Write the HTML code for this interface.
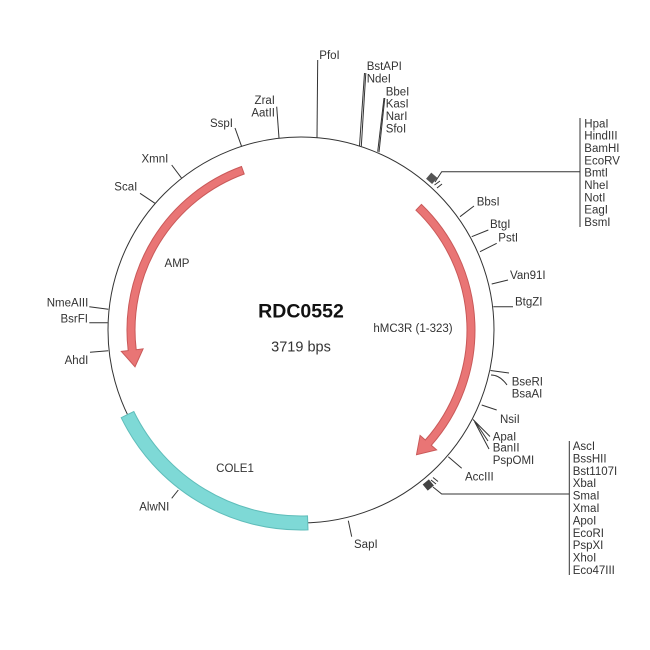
<!DOCTYPE html>
<html><head><meta charset="utf-8"><style>
html,body{margin:0;padding:0;background:#fff;}
svg{display:block;}
text{font-family:"Liberation Sans",Arial,sans-serif;fill:#333;}
.s{font-size:11.5px;}
</style></head><body>
<svg width="650" height="650" viewBox="0 0 650 650" xmlns="http://www.w3.org/2000/svg">
<rect width="650" height="650" fill="#fff"/>
<circle cx="301" cy="330" r="193" fill="none" stroke="#333" stroke-width="1"/>

<!-- COLE1 -->
<path d="M 308.0 529.9 A 200 200 0 0 1 121.2 417.7 L 133.8 411.5 A 186 186 0 0 0 307.5 515.9 Z" fill="#7ed9d6" stroke="#5fbdba" stroke-width="1"/>

<!-- AMP -->
<path d="M 241.5 166.5 A 174 174 0 0 0 128.2 350.6 L 121.3 351.4 L 135.0 366.8 L 143.1 348.8 L 136.2 349.7 A 166 166 0 0 1 244.2 174.0 Z" fill="#e97575" stroke="#c95959" stroke-width="1"/>
<!-- hMC3R -->
<path d="M 421.4 204.4 A 174 174 0 0 1 431.3 445.3 L 436.6 449.9 L 416.5 454.7 L 420.1 435.4 L 425.3 440.0 A 166 166 0 0 0 415.9 210.2 Z" fill="#e97575" stroke="#c95959" stroke-width="1"/>

<!-- ticks -->
<g stroke="#333" stroke-width="1" fill="none">
<line x1="241.7" y1="146.7" x2="235" y2="128"/>
<line x1="279" y1="138" x2="276.7" y2="106.7"/>
<line x1="317" y1="137.7" x2="317.7" y2="60"/>
<line x1="359.5" y1="146" x2="364.5" y2="73"/>
<line x1="361.3" y1="146.3" x2="365.8" y2="73"/>
<line x1="377.7" y1="151.7" x2="384" y2="98"/>
<line x1="379" y1="152.3" x2="384.8" y2="98"/>
<!-- upper cluster -->
<polyline points="435,182 441.7,171.7 580,171.7"/>
<line x1="580" y1="118" x2="580" y2="227"/>
<line x1="434.5" y1="185" x2="440" y2="181"/>
<line x1="437" y1="188" x2="442" y2="184"/>
<line x1="460" y1="216.7" x2="474" y2="206"/>
<line x1="471.7" y1="236.7" x2="488.3" y2="230"/>
<line x1="480" y1="251.7" x2="496.7" y2="243.3"/>
<line x1="491.7" y1="284" x2="508" y2="280"/>
<line x1="493.3" y1="306.7" x2="513" y2="306.7"/>
<line x1="490.5" y1="370.5" x2="509" y2="373"/>
<path d="M 491 375 Q 500 375 507 385"/>
<line x1="481.7" y1="405" x2="496.7" y2="410"/>
<line x1="473" y1="419.5" x2="490" y2="436.5"/>
<line x1="474.5" y1="421.5" x2="489" y2="449"/>
<line x1="476" y1="423" x2="488" y2="441"/>
<line x1="448.3" y1="456.7" x2="461.7" y2="468.3"/>
<!-- lower cluster -->
<polyline points="433,487 441.7,494 569.3,494"/>
<line x1="569.3" y1="441" x2="569.3" y2="575"/>
<line x1="431" y1="480" x2="436" y2="484"/>
<line x1="433" y1="477.5" x2="438" y2="481.5"/>
<line x1="181.7" y1="178.3" x2="171.7" y2="165"/>
<line x1="155" y1="203.3" x2="140" y2="193.3"/>
<line x1="108.3" y1="309.3" x2="89.3" y2="306.7"/>
<line x1="107.7" y1="322.7" x2="89.3" y2="322.7"/>
<line x1="108.3" y1="350.7" x2="90" y2="352.3"/>
<line x1="178.3" y1="490" x2="171.7" y2="498.3"/>
<line x1="348.3" y1="520.7" x2="351.7" y2="536.7"/>
</g>
<!-- cluster markers -->
<rect x="-4" y="-4" width="8" height="8" fill="#555" transform="translate(431.7 178.3) rotate(40.7)"/>
<rect x="-4" y="-4" width="8" height="8" fill="#444" transform="translate(428.3 485) rotate(140.7)"/>

<!-- labels -->
<g class="s">
<text x="233" y="127" text-anchor="end">SspI</text>
<text x="275" y="104" text-anchor="end">ZraI</text>
<text x="275" y="116.7" text-anchor="end">AatII</text>
<text x="319.3" y="59">PfoI</text>
<text x="366.7" y="70">BstAPI</text>
<text x="366.7" y="82.3">NdeI</text>
<text x="385.7" y="95.7">BbeI</text>
<text x="385.7" y="107.3">KasI</text>
<text x="385.7" y="120">NarI</text>
<text x="385.7" y="132.3">SfoI</text>

<text x="584.3" y="127.3">HpaI</text>
<text x="584.3" y="139.6">HindIII</text>
<text x="584.3" y="152">BamHI</text>
<text x="584.3" y="164.3">EcoRV</text>
<text x="584.3" y="176.7">BmtI</text>
<text x="584.3" y="189">NheI</text>
<text x="584.3" y="201.3">NotI</text>
<text x="584.3" y="213.7">EagI</text>
<text x="584.3" y="226">BsmI</text>

<text x="476.7" y="205.7">BbsI</text>
<text x="490" y="228">BtgI</text>
<text x="498.3" y="241.3">PstI</text>
<text x="510" y="279">Van91I</text>
<text x="515" y="305.7">BtgZI</text>
<text x="511.7" y="385.7">BseRI</text>
<text x="511.7" y="397.3">BsaAI</text>
<text x="500" y="423">NsiI</text>
<text x="492.7" y="440.7">ApaI</text>
<text x="492.7" y="451.3">BanII</text>
<text x="492.7" y="464">PspOMI</text>
<text x="465" y="480.7">AccIII</text>

<text x="572.7" y="450">AscI</text>
<text x="572.7" y="462.4">BssHII</text>
<text x="572.7" y="474.8">Bst1107I</text>
<text x="572.7" y="487.2">XbaI</text>
<text x="572.7" y="499.6">SmaI</text>
<text x="572.7" y="512">XmaI</text>
<text x="572.7" y="524.4">ApoI</text>
<text x="572.7" y="536.8">EcoRI</text>
<text x="572.7" y="549.2">PspXI</text>
<text x="572.7" y="561.6">XhoI</text>
<text x="572.7" y="574">Eco47III</text>

<text x="168.3" y="162.3" text-anchor="end">XmnI</text>
<text x="137.3" y="190.7" text-anchor="end">ScaI</text>
<text x="88.3" y="306.7" text-anchor="end">NmeAIII</text>
<text x="88" y="322.3" text-anchor="end">BsrFI</text>
<text x="88.3" y="364" text-anchor="end">AhdI</text>
<text x="169.3" y="510.7" text-anchor="end">AlwNI</text>
<text x="354" y="548">SapI</text>

<text x="177" y="267" text-anchor="middle">AMP</text>
<text x="413" y="332" text-anchor="middle">hMC3R (1-323)</text>
<text x="235" y="472" text-anchor="middle">COLE1</text>
</g>
<text x="301" y="317.5" text-anchor="middle" font-size="19.5" font-weight="bold" fill="#111" style="fill:#111">RDC0552</text>
<text x="301" y="351.5" text-anchor="middle" font-size="14.5">3719 bps</text>
</svg>
</body></html>
